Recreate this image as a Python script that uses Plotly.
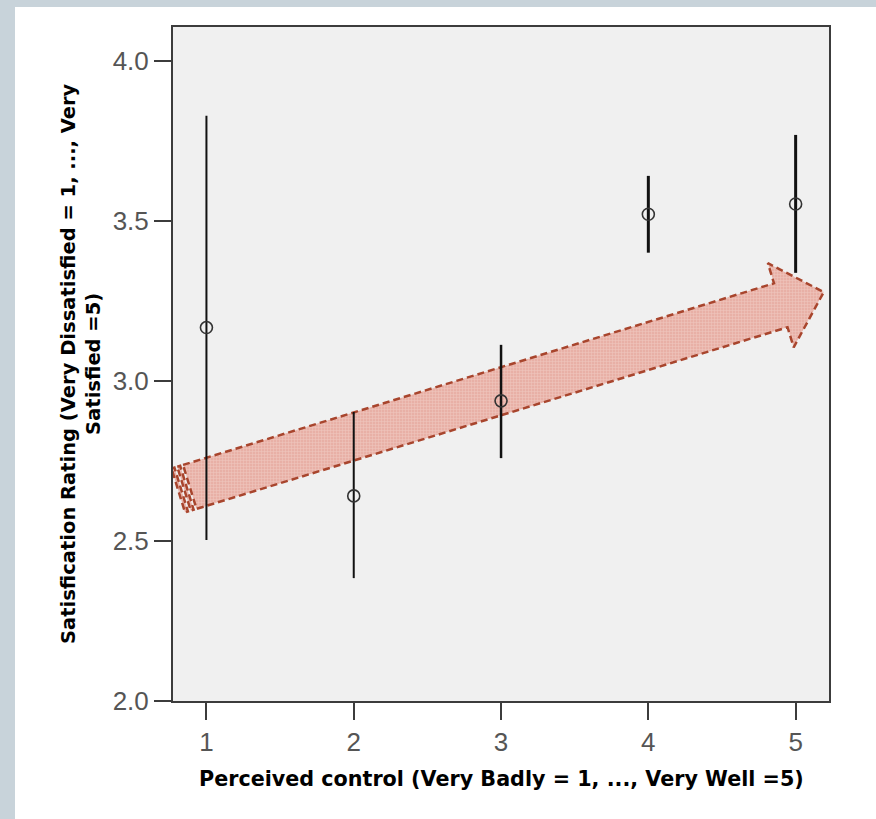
import numpy as np
import plotly.graph_objects as go

# ---- data ----
control = [1, 2, 3, 4, 5]
mean_rating = [3.167, 2.641, 2.938, 3.521, 3.553]
ci_upper = [3.829, 2.903, 3.113, 3.641, 3.769]
ci_lower = [2.503, 2.384, 2.759, 3.401, 3.338]
x_ticks = [1, 2, 3, 4, 5]
y_ticks = [2.0, 2.5, 3.0, 3.5, 4.0]
y_tick_labels = ["2.0", "2.5", "3.0", "3.5", "4.0"]

x_title = "Perceived control (Very Badly = 1, ..., Very Well =5)"
y_title = "Satisfication Rating (Very Dissatisfied = 1, ..., Very<br>Satisfied =5)"

# trend-arrow annotation (tail centre -> tip), data units
arrow_tail = (0.809, 2.658)
arrow_tip = (5.191, 3.278)

# ---- layout geometry ----
W, H = 876, 819
ML, MR, MT, MB = 173, 47, 27, 118
PW, PH = W - ML - MR, H - MT - MB
x_range = [0.773, 0.773 + PW / 147.3]
y_range = [2.0, 2.0 + PH / 320.0]
sx = PW / (x_range[1] - x_range[0])
sy = PH / (y_range[1] - y_range[0])

fig = go.Figure()

# ---- arrow (decoration) built in screen-pixel frame, converted to data ----
tdx = (arrow_tip[0] - arrow_tail[0]) * sx
tdy = -(arrow_tip[1] - arrow_tail[1]) * sy
L = np.hypot(tdx, tdy)
u = np.array([tdx, tdy]) / L
n = np.array([-u[1], u[0]])  # perpendicular (screen)
shaft_hw, head_hw, head_len = 23, 44, 45


def to_data(pts):
    xs, ys = [], []
    for a, c in pts:
        p = a * u + c * n
        xs.append(arrow_tail[0] + p[0] / sx)
        ys.append(arrow_tail[1] - p[1] / sy)
    xs.append(xs[0]); ys.append(ys[0])
    return xs, ys


base = L - head_len
polys = [
    [(0, -shaft_hw), (3, -shaft_hw), (3, shaft_hw), (0, shaft_hw)],
    [(6, -shaft_hw), (9, -shaft_hw), (9, shaft_hw), (6, shaft_hw)],
    [(12, -shaft_hw), (base, -shaft_hw), (base, -head_hw), (L, 0),
     (base, head_hw), (base, shaft_hw), (12, shaft_hw)],
]
for poly in polys:
    ax_, ay_ = to_data(poly)
    fig.add_trace(go.Scatter(
        x=ax_, y=ay_, mode="lines", fill="toself",
        fillcolor="#e9b4aa",
        fillpattern=dict(shape="+", fgcolor="#f7e0da", bgcolor="#e8b0a6",
                         size=3, solidity=0.3),
        line=dict(color="#a8452d", width=2.5, dash="7px,4px"),
        hoverinfo="skip", showlegend=False,
    ))

# ---- error bars + means ----
thick = [2, 2, 2.5, 3, 3]
for i in range(len(control)):
    fig.add_trace(go.Scatter(
        x=[control[i]], y=[mean_rating[i]], mode="markers",
        marker=dict(symbol="circle-open", size=12, color="#333333",
                    line=dict(width=1.6, color="#333333")),
        error_y=dict(type="data", symmetric=False,
                     array=[ci_upper[i] - mean_rating[i]],
                     arrayminus=[mean_rating[i] - ci_lower[i]],
                     color="#111111", thickness=thick[i], width=0),
        showlegend=False,
    ))

tick_font = dict(family="Liberation Sans, Arial, sans-serif", size=26, color="#555555")
fig.update_xaxes(range=x_range, tickvals=x_ticks, ticktext=[str(v) for v in x_ticks],
                 showgrid=False, zeroline=False, showline=True, mirror=True,
                 linecolor="#3c3c3c", linewidth=2, ticks="outside", ticklen=17,
                 tickwidth=2, tickcolor="#3c3c3c", tickfont=tick_font)
fig.update_yaxes(range=y_range, tickvals=y_ticks, ticktext=y_tick_labels,
                 showgrid=False, zeroline=False, showline=True, mirror=True,
                 linecolor="#3c3c3c", linewidth=2, ticks="outside", ticklen=17,
                 tickwidth=2, tickcolor="#3c3c3c", tickfont=tick_font)

band = "#c8d3da"
fig.update_layout(
    width=W, height=H,
    margin=dict(l=ML, r=MR, t=MT, b=MB, pad=0),
    paper_bgcolor="white", plot_bgcolor="#f0f0f0",
    shapes=[
        dict(type="rect", xref="paper", yref="paper", layer="below",
             x0=(0 - ML) / PW, x1=(15 - ML) / PW,
             y0=(PH + MT - H) / PH, y1=(PH + MT) / PH,
             fillcolor=band, line=dict(width=0)),
        dict(type="rect", xref="paper", yref="paper", layer="below",
             x0=(0 - ML) / PW, x1=(W - ML) / PW,
             y0=(PH + MT - 7) / PH, y1=(PH + MT) / PH,
             fillcolor=band, line=dict(width=0)),
    ],
    annotations=[
        dict(text=x_title, xref="paper", yref="paper", x=0.5,
             y=(PH + MT - 779) / PH, xanchor="center", yanchor="middle",
             showarrow=False,
             font=dict(family="DejaVu Sans", size=20.7, color="black", weight="bold")),
        dict(text=y_title, xref="paper", yref="paper", x=(81 - ML) / PW,
             y=0.5, xanchor="center", yanchor="middle", textangle=-90,
             showarrow=False,
             font=dict(family="DejaVu Sans", size=19.5, color="black", weight="bold")),
    ],
)

fig.write_html("out.html", config={"displayModeBar": False},
               post_script="document.body.style.margin='0px';"
                           "document.body.style.overflow='hidden';")
